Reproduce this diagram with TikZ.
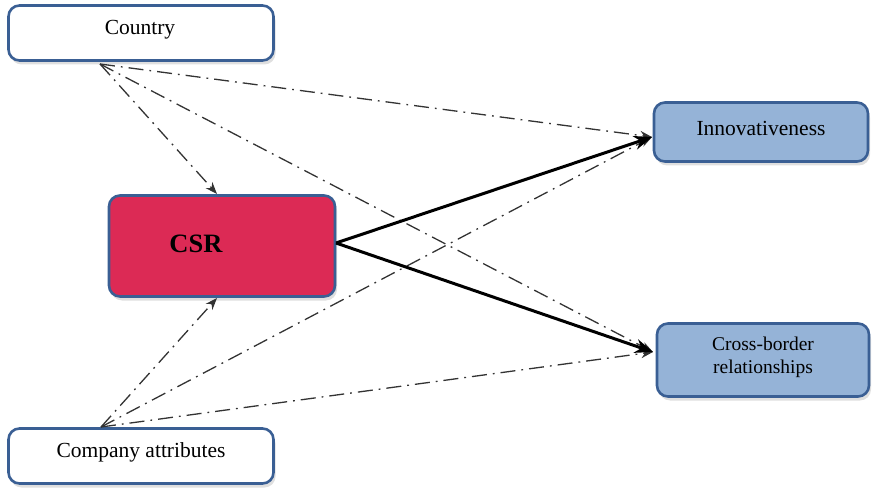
\documentclass[tikz,border=0pt]{standalone}
\usepackage{fontspec}
\setmainfont{Liberation Serif}
\usetikzlibrary{arrows.meta,shadows}
\definecolor{frameblue}{HTML}{3A5F94}
\definecolor{csrred}{HTML}{DC2A55}
\definecolor{outblue}{HTML}{95B3D7}
\tikzset{
  box/.style={draw=frameblue, line width=2.6pt, rounded corners=11pt, inner sep=0pt,
    drop shadow={opacity=0.25, shadow xshift=2pt, shadow yshift=-4pt}},
  whitebox/.style={box, fill=white},
  redbox/.style={box, fill=csrred},
  bluebox/.style={box, fill=outblue},
  dashdot/.style={line width=1.3pt, black!80, dash pattern=on 15pt off 6pt on 1.8pt off 6pt,
    -{Stealth[length=12pt,width=9pt]}},
  mainarrow/.style={line width=3pt, -{Stealth[length=18pt,width=14pt]}}
}
\begin{document}
\begin{tikzpicture}[x=1pt,y=-1pt,font=\fontsize{21.5}{24}\selectfont]
\useasboundingbox (0,0) rectangle (873,489);
% boxes
\node[whitebox, minimum width=265pt, minimum height=55pt] (country) at (141,33) {};
\node at (140,30) {Country};
\node[redbox, minimum width=226pt, minimum height=101pt] (csr) at (222,246) {};
\node[font=\fontsize{26.5}{28}\selectfont\bfseries] at (196,244) {CSR};
\node[bluebox, minimum width=214pt, minimum height=59pt] (inno) at (761,132) {};
\node at (761,128) {Innovativeness};
\node[bluebox, minimum width=212pt, minimum height=73pt] (cross) at (763,360) {};
\node[align=center, font=\fontsize{19.5}{23}\selectfont] at (763,357) {Cross-border\\relationships};
\node[whitebox, minimum width=265pt, minimum height=55pt] (comp) at (141,456) {};
\node at (141,452) {Company attributes};
% connector anchors
\coordinate (cO) at (100,64);
\coordinate (aO) at (101,427);
\coordinate (iIn) at (652,137);
\coordinate (xIn) at (653,352);
\coordinate (csrT) at (217,194);
\coordinate (csrB) at (217,298);
\coordinate (csrR) at (336,243);
% dash-dot links from the context nodes
\draw[dashdot] (cO) -- (csrT);
\draw[dashdot] (cO) -- (iIn);
\draw[dashdot] (cO) -- (xIn);
\draw[dashdot] (aO) -- (csrB);
\draw[dashdot] (aO) -- (iIn);
\draw[dashdot] (aO) -- (xIn);
% main effects
\draw[mainarrow] (csrR) -- (iIn);
\draw[mainarrow] (csrR) -- (xIn);
\end{tikzpicture}
\end{document}
